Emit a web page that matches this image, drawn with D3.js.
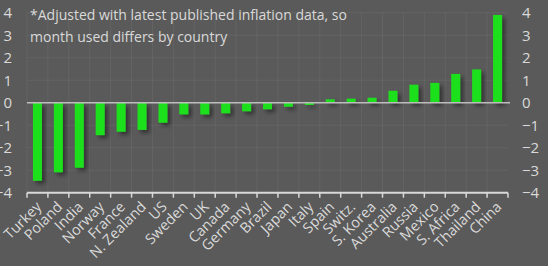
<!DOCTYPE html>
<html>
<head>
<meta charset="utf-8">
<script src="https://cdn.jsdelivr.net/npm/d3@7"></script>
<style>
  html, body { margin: 0; padding: 0; background: #5a5a5a; }
  svg { display: block; }
  text { font-family: "Open Sans", "Noto Sans", sans-serif; fill: #d9d9d9; }
</style>
</head>
<body>
<div id="chart"></div>
<script>
const countries = ["Turkey", "Poland", "India", "Norway", "France", "N. Zealand", "US", "Sweden", "UK",
    "Canada", "Germany", "Brazil", "Japan", "Italy", "Spain", "Switz.", "S. Korea", "Australia",
    "Russia", "Mexico", "S. Africa", "Thailand", "China"];
const values = [-3.47, -3.09, -2.89, -1.44, -1.29, -1.21, -0.89, -0.52, -0.52,
    -0.47, -0.38, -0.29, -0.18, -0.1, 0.15, 0.18, 0.22, 0.53,
    0.8, 0.88, 1.28, 1.48, 3.9];
const yTicks = [-4, -3, -2, -1, 0, 1, 2, 3, 4];
const noteLines = ["*Adjusted with latest published inflation data, so", "month used differs by country"];

const width = 548, height = 266;

const svg = d3.select("#chart").append("svg")
    .attr("width", width)
    .attr("height", height);

svg.append("rect").attr("width", width).attr("height", height).attr("fill", "#5a5a5a");

const defs = svg.append("defs");
defs.append("filter").attr("id", "shadow")
    .attr("x", "-50%").attr("y", "-20%").attr("width", "200%").attr("height", "140%")
  .append("feDropShadow")
    .attr("dx", 3).attr("dy", 3).attr("stdDeviation", 2)
    .attr("flood-color", "#000").attr("flood-opacity", 0.45);

const x = d3.scaleBand().domain(countries).range([27, 508]);
const y = d3.scaleLinear().domain([-4, 4]).range([192.7, 12.7]);

// faint grid
svg.append("g").selectAll("line.h")
    .data(yTicks)
    .join("line")
    .attr("x1", 27).attr("x2", 508)
    .attr("y1", d => y(d)).attr("y2", d => y(d))
    .attr("stroke", "#ffffff").attr("stroke-opacity", 0.06);

svg.append("g").selectAll("line.v")
    .data(countries)
    .join("line")
    .attr("x1", d => x(d)).attr("x2", d => x(d))
    .attr("y1", y(4)).attr("y2", y(-4))
    .attr("stroke", "#ffffff").attr("stroke-opacity", 0.06);

// bars
const barW = x.bandwidth() * 0.43;
svg.append("g").attr("filter", "url(#shadow)")
    .selectAll("rect")
    .data(countries)
    .join("rect")
    .attr("x", d => x(d) + (x.bandwidth() - barW) / 2)
    .attr("width", barW)
    .attr("y", (d, i) => y(Math.max(0, values[i])))
    .attr("height", (d, i) => Math.abs(y(values[i]) - y(0)))
    .attr("fill", "#1fe01f");

// zero line
svg.append("line")
    .attr("x1", 27).attr("x2", 510)
    .attr("y1", y(0)).attr("y2", y(0))
    .attr("stroke", "#bdbdbd").attr("stroke-width", 1.5);

// x axis at the bottom
const xAxis = d3.axisBottom(x).tickSize(0).tickFormat("");
const gx = svg.append("g")
    .attr("transform", "translate(0," + y(-4) + ")")
    .call(xAxis);
gx.select(".domain").remove();
gx.append("line")
    .attr("x1", 27).attr("x2", 508)
    .attr("stroke", "#d9d9d9").attr("stroke-width", 2);
gx.selectAll("line.tk")
    .data(countries.concat(["end"]))
    .join("line")
    .attr("class", "tk")
    .attr("x1", (d, i) => i < countries.length ? x(d) : 508)
    .attr("x2", (d, i) => i < countries.length ? x(d) : 508)
    .attr("y1", 0).attr("y2", 5)
    .attr("stroke", "#d9d9d9").attr("stroke-width", 1.5);

svg.append("g").selectAll("text")
    .data(countries)
    .join("text")
    .attr("transform", d => "translate(" + (x(d) + x.bandwidth() / 2 + 5) + "," + (y(-4) + 15) + ") rotate(-45)")
    .attr("text-anchor", "end")
    .attr("font-size", 14.5)
    .text(d => d);

// y axes, left and right
const yLeft = d3.axisLeft(y).tickValues(yTicks).tickSize(0).tickPadding(0);
const gl = svg.append("g").attr("transform", "translate(12,0)").call(yLeft);
gl.select(".domain").remove();
gl.selectAll("text")
    .attr("font-size", 15)
    .attr("font-family", "'Open Sans', sans-serif")
    .attr("fill", "#d9d9d9");

const yRight = d3.axisRight(y).tickValues(yTicks).tickSize(0).tickPadding(0);
const gr = svg.append("g").attr("transform", "translate(522,0)").call(yRight);
gr.select(".domain").remove();
gr.selectAll("text")
    .attr("font-size", 15)
    .attr("font-family", "'Open Sans', sans-serif")
    .attr("fill", "#d9d9d9");

// note
svg.append("g").selectAll("text")
    .data(noteLines)
    .join("text")
    .attr("x", 30)
    .attr("y", (d, i) => 20 + i * 22)
    .attr("font-size", 14)
    .text(d => d);
</script>
</body>
</html>
